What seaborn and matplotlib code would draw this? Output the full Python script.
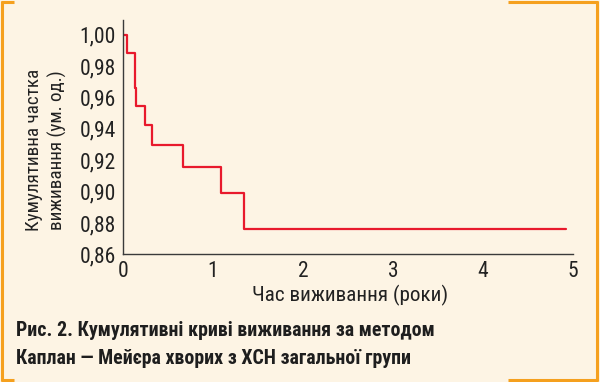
import matplotlib
matplotlib.use("Agg")
import matplotlib.pyplot as plt
import seaborn as sns
import pandas as pd
from matplotlib.lines import Line2D
from matplotlib import font_manager

# ---- data ----
times = [0.0, 0.05, 0.128, 0.133, 0.14, 0.245, 0.32, 0.664, 1.094, 1.35, 4.92]
survival = [1.000, 0.9887, 0.9773, 0.966, 0.9546, 0.9425, 0.930, 0.9157, 0.8989, 0.8764, 0.8764]
x_ticks = [0, 1, 2, 3, 4, 5]
y_ticks = [0.86, 0.88, 0.90, 0.92, 0.94, 0.96, 0.98, 1.00]
y_label = "Кумулятивна частка\nвиживання (ум. од.)"
x_label = "Час виживання (роки)"
caption = ["Рис. 2. Кумулятивні криві виживання за методом",
           "Каплан — Мейєра хворих з ХСН загальної групи"]

BG = "#FDF4E4"
ORANGE = "#F5A01E"
RED = "#E8192C"
DARK = "#3a3a3a"

sns.set_theme(style="white")
names = {f.name for f in font_manager.fontManager.ttflist}
pref = ["Roboto Condensed", "Fira Sans Condensed", "IBM Plex Sans Condensed",
        "Encode Sans Condensed", "Liberation Sans Narrow", "DejaVu Sans"]
narrow = next(n for n in pref if n in names)
plt.rcParams["font.family"] = [narrow, "DejaVu Sans"]

df = pd.DataFrame({"t": times, "s": survival})

fig = plt.figure(figsize=(6.0, 3.82), dpi=100, facecolor=BG)
ax = fig.add_axes([0.205, 0.3338, 0.9545 - 0.205, 0.9476 - 0.3338])
ax.set_facecolor(BG)

sns.lineplot(data=df, x="t", y="s", ax=ax, color=RED, linewidth=1.6,
             drawstyle="steps-post", estimator=None, sort=False)

ax.set_xlim(0, 5)
ax.set_ylim(0.86, 1.0094)
ax.set_xticks(x_ticks)
ax.set_xticklabels([str(v) for v in x_ticks])
ax.set_yticks(y_ticks)
ax.set_yticklabels([f"{v:.2f}".replace(".", ",") for v in y_ticks])
for s in ["top", "right"]:
    ax.spines[s].set_visible(False)
for s in ["left", "bottom"]:
    ax.spines[s].set_color(DARK)
    ax.spines[s].set_linewidth(1.0)
ax.tick_params(axis="both", direction="in", length=4, width=1.0, color=DARK,
               labelsize=15.5, labelcolor="#222222")
ax.tick_params(axis="y", pad=5)
ax.tick_params(axis="x", pad=5)
ax.set_xlabel("")
ax.set_ylabel("")

fig.text(46 / 600, 1 - 150 / 382, y_label, rotation=90, ha="center", va="center",
         multialignment="center", fontsize=13.8, color="#222222", linespacing=1.35)
fig.text(350 / 600, 1 - 295 / 382, x_label, ha="center", va="center",
         fontsize=15.2, color="#222222")

fig.text(16 / 600, 1 - 330 / 382, caption[0], ha="left", va="center",
         fontsize=14.3, fontweight="bold", color="#1e1e1e")
fig.text(16 / 600, 1 - 358 / 382, caption[1], ha="left", va="center",
         fontsize=14.3, fontweight="bold", color="#1e1e1e")

# decorative orange frame
def fl(x, y):
    fig.add_artist(Line2D([v / 600 for v in x], [1 - v / 382 for v in y],
                          transform=fig.transFigure, color=ORANGE, linewidth=2.2,
                          solid_capstyle="butt"))
fl([2, 2], [1, 381])
fl([597, 597], [1, 381])
fl([1, 14], [2, 2])
fl([508, 598], [2, 2])
fl([1, 14], [380, 380])
fl([508, 598], [380, 380])

fig.savefig("out.png", dpi=100, facecolor=BG)
